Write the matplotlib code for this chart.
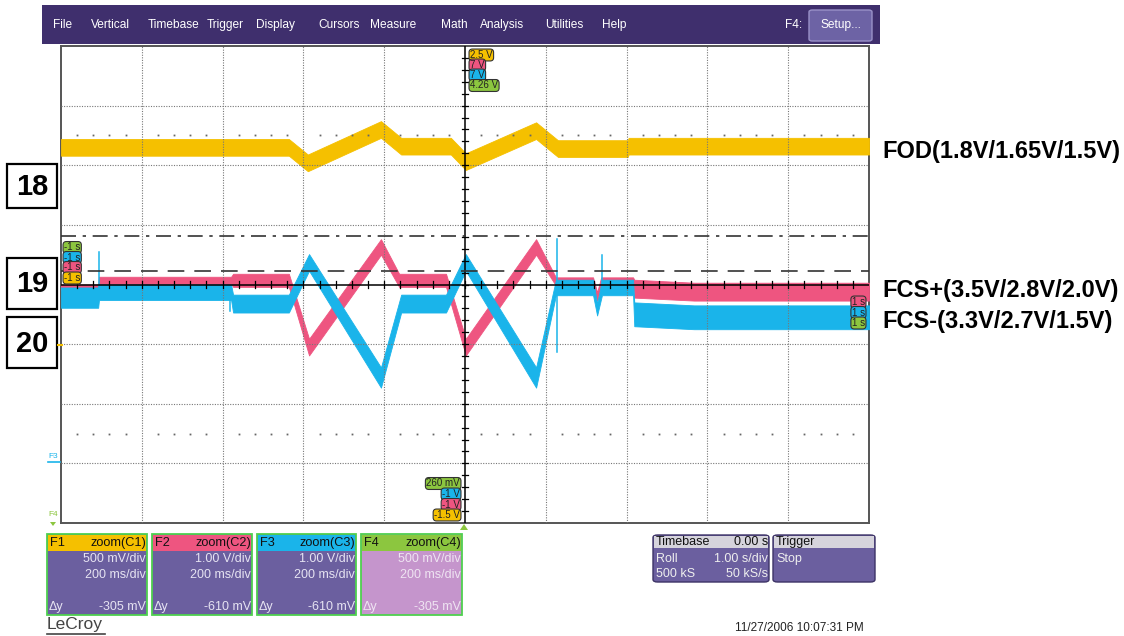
import matplotlib
matplotlib.use("Agg")
import matplotlib.pyplot as plt
from matplotlib.patches import Rectangle, FancyBboxPatch, Polygon
import numpy as np

# ---------------------------------------------------------------- data
# time axis (s), 200 ms/div, screen spans -1 s .. +1 s
# F1 = FOD (yellow), 500 mV/div, screen -1.5 V .. 2.5 V
fod_t = [-1.0, -0.436, -0.389, -0.208, -0.158, -0.035, 0.002, 0.176, 0.230, 0.403, 0.405, 1.0]
fod_v = [1.65, 1.65, 1.52, 1.80, 1.66, 1.66, 1.53, 1.79, 1.64, 1.64, 1.66, 1.66]
fod_hw = [0.07] * len(fod_t)

# F2 = FCS+ (pink), 1 V/div, screen -1 V .. 7 V
fcsp_t = [-1.0, -0.908, -0.906, -0.579, -0.574, -0.436, -0.386, -0.208, -0.163, -0.047,
          0.002, 0.176, 0.225, 0.317, 0.327, 0.337, 0.416, 0.419, 0.567, 1.0]
fcsp_v = [2.95, 2.95, 3.07, 3.07, 3.07, 3.07, 1.95, 3.63, 3.07, 3.07,
          1.95, 3.63, 3.05, 3.05, 2.80, 3.05, 3.05, 2.93, 2.88, 2.88]
fcsp_hw = [0.05, 0.05, 0.06, 0.06, 0.11, 0.11, 0.14, 0.13, 0.11, 0.11,
           0.14, 0.13, 0.07, 0.07, 0.07, 0.07, 0.07, 0.15, 0.15, 0.15]

# F3 = FCS- (blue), 1 V/div, screen -1 V .. 7 V
fcsm_t = [-1.0, -0.908, -0.906, -0.579, -0.574, -0.436, -0.386, -0.208, -0.158, -0.047,
          0.002, 0.176, 0.225, 0.317, 0.327, 0.339, 0.416, 0.419, 0.567, 1.0]
fcsm_v = [2.78, 2.78, 2.87, 2.87, 2.68, 2.68, 3.37, 1.44, 2.68, 2.68,
          3.37, 1.44, 2.95, 2.95, 2.58, 2.95, 2.95, 2.50, 2.45, 2.45]
fcsm_hw = [0.17, 0.17, 0.13, 0.13, 0.15, 0.15, 0.14, 0.17, 0.15, 0.15,
           0.14, 0.17, 0.13, 0.13, 0.10, 0.13, 0.13, 0.20, 0.20, 0.20]

# isolated glitches on FCS- : (time, from V, to V)
fcsm_spikes = [(-0.906, 2.87, 3.55), (-0.581, 2.87, 2.55), (0.228, 1.86, 3.76), (0.338, 2.95, 3.50)]

# channel screen ranges
f1_range = (-1.5, 2.5)
f2_range = (-1.0, 7.0)
f3_range = (-1.0, 7.0)

# trace descriptions on the right
trace_names = ["FOD(1.8V/1.65V/1.5V)", "FCS+(3.5V/2.8V/2.0V)", "FCS-(3.3V/2.7V/1.5V)"]
step_labels = ["18", "19", "20"]

menu_items = ["File", "Vertical", "Timebase", "Trigger", "Display", "Cursors",
              "Measure", "Math", "Analysis", "Utilities", "Help"]

fn_names = ["F1", "F2", "F3", "F4"]
fn_src = ["zoom(C1)", "zoom(C2)", "zoom(C3)", "zoom(C4)"]
fn_vdiv = ["500 mV/div", "1.00 V/div", "1.00 V/div", "500 mV/div"]
fn_tdiv = ["200 ms/div"] * 4
fn_dy = ["-305 mV", "-610 mV", "-610 mV", "-305 mV"]

# ---------------------------------------------------------------- colours
YEL = "#f5c000"
PNK = "#ee5580"
BLU = "#1ab4ea"
GRN = "#8cc63f"
MENU = "#3f2f6d"
BODY = "#6b5f9f"

W, H = 1124, 636
fig = plt.figure(figsize=(W / 100, H / 100), dpi=100)
fig.patch.set_facecolor("white")
plt.rcParams["font.family"] = ["Liberation Sans", "DejaVu Sans"]


def fx(x):
    return x / W


def fy(y):
    return 1 - y / H


def frect(x0, y0, x1, y1, **kw):
    p = Rectangle((fx(x0), fy(y1)), (x1 - x0) / W, (y1 - y0) / H,
                  transform=fig.transFigure, **kw)
    fig.add_artist(p)
    return p


def ftext(x, y, s, **kw):
    kw.setdefault("va", "center")
    return fig.text(fx(x), fy(y), s, **kw)


# ---------------------------------------------------------------- grid area
L, T, R, B = 61, 46, 869, 523
ax = fig.add_axes([fx(L), fy(B), (R - L) / W, (B - T) / H])
ax.set_xlim(-1, 1)
ax.set_ylim(-4, 4)
ax.set_xticks([])
ax.set_yticks([])
for s in ax.spines.values():
    s.set_color("#555555")
    s.set_linewidth(1.4)


def channel_axes(rng):
    a = ax.twinx()
    a.set_ylim(*rng)
    a.set_xlim(-1, 1)
    a.axis("off")
    return a


ax1 = channel_axes(f1_range)
ax2 = channel_axes(f2_range)
ax3 = channel_axes(f3_range)


def band(a, t, v, hw, color):
    t = np.asarray(t)
    v = np.asarray(v)
    hw = np.asarray(hw)
    a.fill_between(t, v - hw, v + hw, color=color, linewidth=0.6, edgecolor=color)


band(ax1, fod_t, fod_v, fod_hw, YEL)
band(ax2, fcsp_t, fcsp_v, fcsp_hw, PNK)
band(ax3, fcsm_t, fcsm_v, fcsm_hw, BLU)
for t0, v0, v1 in fcsm_spikes:
    ax3.plot([t0, t0], [v0, v1], color=BLU, lw=1.1)

# overlay: graticule, centre cross, cursors
ov = channel_axes((-4, 4))
dot = (0, (1, 1.3))
for i in range(1, 10):
    t0 = -1 + 0.2 * i
    if i != 5:
        ov.plot([t0, t0], [-4, 4], color="#777777", lw=0.8, ls=dot)
for j in range(-3, 4):
    if j != 0:
        ov.plot([-1, 1], [j, j], color="#777777", lw=0.8, ls=dot)
ov.plot([-1, 1], [0, 0], color="black", lw=1.1)
ov.plot([0, 0], [-4, 4], color="black", lw=1.1)
for k in range(1, 50):
    t0 = -1 + 0.04 * k
    ov.plot([t0, t0], [-0.055, 0.055], color="black", lw=0.9)
for k in range(1, 40):
    v0 = -4 + 0.2 * k
    ov.plot([-0.0085, 0.0085], [v0, v0], color="black", lw=0.9)
# half-division dot rows
dots_t = [-1 + 0.04 * k for k in range(1, 50) if k % 5 != 0]
for row in (2.5, -2.5):
    ov.plot(dots_t, [row] * len(dots_t), ls="none", marker="s", ms=1.3,
            color="#666666", mec="none")
ov.plot([-1, 1], [0.82, 0.82], color="#333333", lw=1.2, ls=(0, (9, 4, 2, 4)))
ov.plot([-1, 1], [0.22, 0.22], color="#333333", lw=1.2, ls=(0, (10, 6)))


# ---------------------------------------------------------------- pills
def pill(x, y, s, fc, ha="left"):
    ftext(x, y, s, ha=ha, fontsize=7, color="#222222", zorder=10,
          bbox=dict(boxstyle="round,pad=0.1,rounding_size=0.35", fc=fc,
                    ec="#333333", lw=0.8))


pill(470, 55, "2.5 V", YEL)
pill(470, 65, "7 V", PNK)
pill(470, 75, "7 V", BLU)
pill(470, 85.5, "4.26 V", GRN)

pill(460, 483.5, "260 mV", GRN, ha="right")
pill(460, 494, "-1 V", BLU, ha="right")
pill(460, 504.5, "-1 V", PNK, ha="right")
pill(460, 515, "-1.5 V", YEL, ha="right")

pill(64, 247.5, "-1 s", GRN)
pill(64, 257.5, "-1 s", BLU)
pill(64, 267.5, "-1 s", PNK)
pill(64, 278, "-1 s", YEL)

pill(865, 302, "1 s", PNK, ha="right")
pill(865, 312.5, "1 s", BLU, ha="right")
pill(865, 323, "1 s", GRN, ha="right")

# side markers
ftext(48, 456, "F3", fontsize=6, color=BLU)
fig.add_artist(plt.Line2D([fx(48), fx(60)], [fy(462), fy(462)], color=BLU, lw=1.2,
                          transform=fig.transFigure))
ftext(48, 515, "F4", fontsize=6, color=GRN)
fig.add_artist(Polygon([[fx(50), fy(522)], [fx(56), fy(522)], [fx(53), fy(526)]],
                       closed=True, fc=GRN, ec="none", transform=fig.transFigure))
fig.add_artist(Polygon([[fx(460), fy(530)], [fx(468), fy(530)], [fx(464), fy(524)]],
                       closed=True, fc=GRN, ec="none", transform=fig.transFigure))
fig.add_artist(plt.Line2D([fx(58), fx(62)], [fy(345), fy(345)], color=YEL, lw=1.5,
                          transform=fig.transFigure))

# ---------------------------------------------------------------- step boxes
for lab, (y0, y1) in zip(step_labels, [(164, 208), (258, 309), (317, 368)]):
    frect(7, y0, 57, y1, fc="white", ec="black", lw=1.6)
    ftext(32, (y0 + y1) / 2 + 1, lab, ha="center", fontsize=21, fontweight="bold")

for name, y in zip(trace_names, [152, 291, 321]):
    ftext(882, y, name, ha="left", fontsize=17, fontweight="bold")

# ---------------------------------------------------------------- menu bar
frect(42, 5, 880, 44, fc=MENU, ec="none")
menu_x = [53, 91, 148, 207, 256, 318, 370, 441, 480, 545, 602]
for s, x in zip(menu_items, menu_x):
    ftext(x, 25, s, ha="left", fontsize=8.6, color="white")
ftext(785, 25, "F4:", ha="left", fontsize=8.6, color="white")
fig.add_artist(FancyBboxPatch((fx(809), fy(41)), (872 - 809) / W, (41 - 10) / H,
                              boxstyle="round,pad=0,rounding_size=0.003",
                              fc="#6d63a5", ec="#9a92c8", lw=1,
                              transform=fig.transFigure))
ftext(840.5, 25, "Setup...", ha="center", fontsize=8.6, color="white")

# ---------------------------------------------------------------- function boxes
hdr_cols = [YEL, PNK, BLU, GRN]
body_cols = [BODY, BODY, BODY, "#c595cc"]
box_x = [(47, 147), (152, 252), (257, 356), (361, 462)]
for i, (x0, x1) in enumerate(box_x):
    frect(x0, 534, x1, 615, fc=body_cols[i], ec="#4fd04f", lw=1.3)
    frect(x0 + 1, 535, x1 - 1, 551, fc=hdr_cols[i], ec="none")
    ftext(x0 + 3, 543, fn_names[i], ha="left", fontsize=9.2, color="#111111")
    ftext(x1 - 1, 543, fn_src[i], ha="right", fontsize=9.2, color="#111111")
    tc = "#e6e3f2" if i < 3 else "#efe4f2"
    ftext(x1 - 1, 559, fn_vdiv[i], ha="right", fontsize=9, color=tc)
    ftext(x1 - 1, 575, fn_tdiv[i], ha="right", fontsize=9, color=tc)
    ftext(x0 + 2, 607, "Δy", ha="left", fontsize=9, color=tc)
    ftext(x1 - 1, 607, fn_dy[i], ha="right", fontsize=9, color=tc)

# timebase / trigger
for (x0, x1) in [(653, 769), (773, 875)]:
    fig.add_artist(FancyBboxPatch((fx(x0), fy(582)), (x1 - x0) / W, (582 - 535) / H,
                                  boxstyle="round,pad=0,rounding_size=0.004",
                                  fc=BODY, ec="#3d3366", lw=1,
                                  transform=fig.transFigure))
    frect(x0 + 1, 536, x1 - 1, 548, fc="#d6d4dc", ec="none")
ftext(656, 542, "Timebase", ha="left", fontsize=9, color="#111111")
ftext(768, 542, "0.00 s", ha="right", fontsize=9, color="#111111")
ftext(656, 559, "Roll", ha="left", fontsize=9, color="#eeeeee")
ftext(768, 559, "1.00 s/div", ha="right", fontsize=9, color="#eeeeee")
ftext(656, 574, "500 kS", ha="left", fontsize=9, color="#eeeeee")
ftext(768, 574, "50 kS/s", ha="right", fontsize=9, color="#eeeeee")
ftext(776, 542, "Trigger", ha="left", fontsize=9, color="#111111")
ftext(776, 559, "Stop", ha="left", fontsize=9, color="#eeeeee")

ftext(47, 625, "LeCroy", ha="left", fontsize=12.5, color="#444444")
fig.add_artist(plt.Line2D([fx(47), fx(105)], [fy(634), fy(634)], color="#444444",
                          lw=1.2, transform=fig.transFigure))
ftext(735, 628, "11/27/2006 10:07:31 PM", ha="left", fontsize=8.5, color="#222222")

fig.savefig("out.png", dpi=100, facecolor="white")
